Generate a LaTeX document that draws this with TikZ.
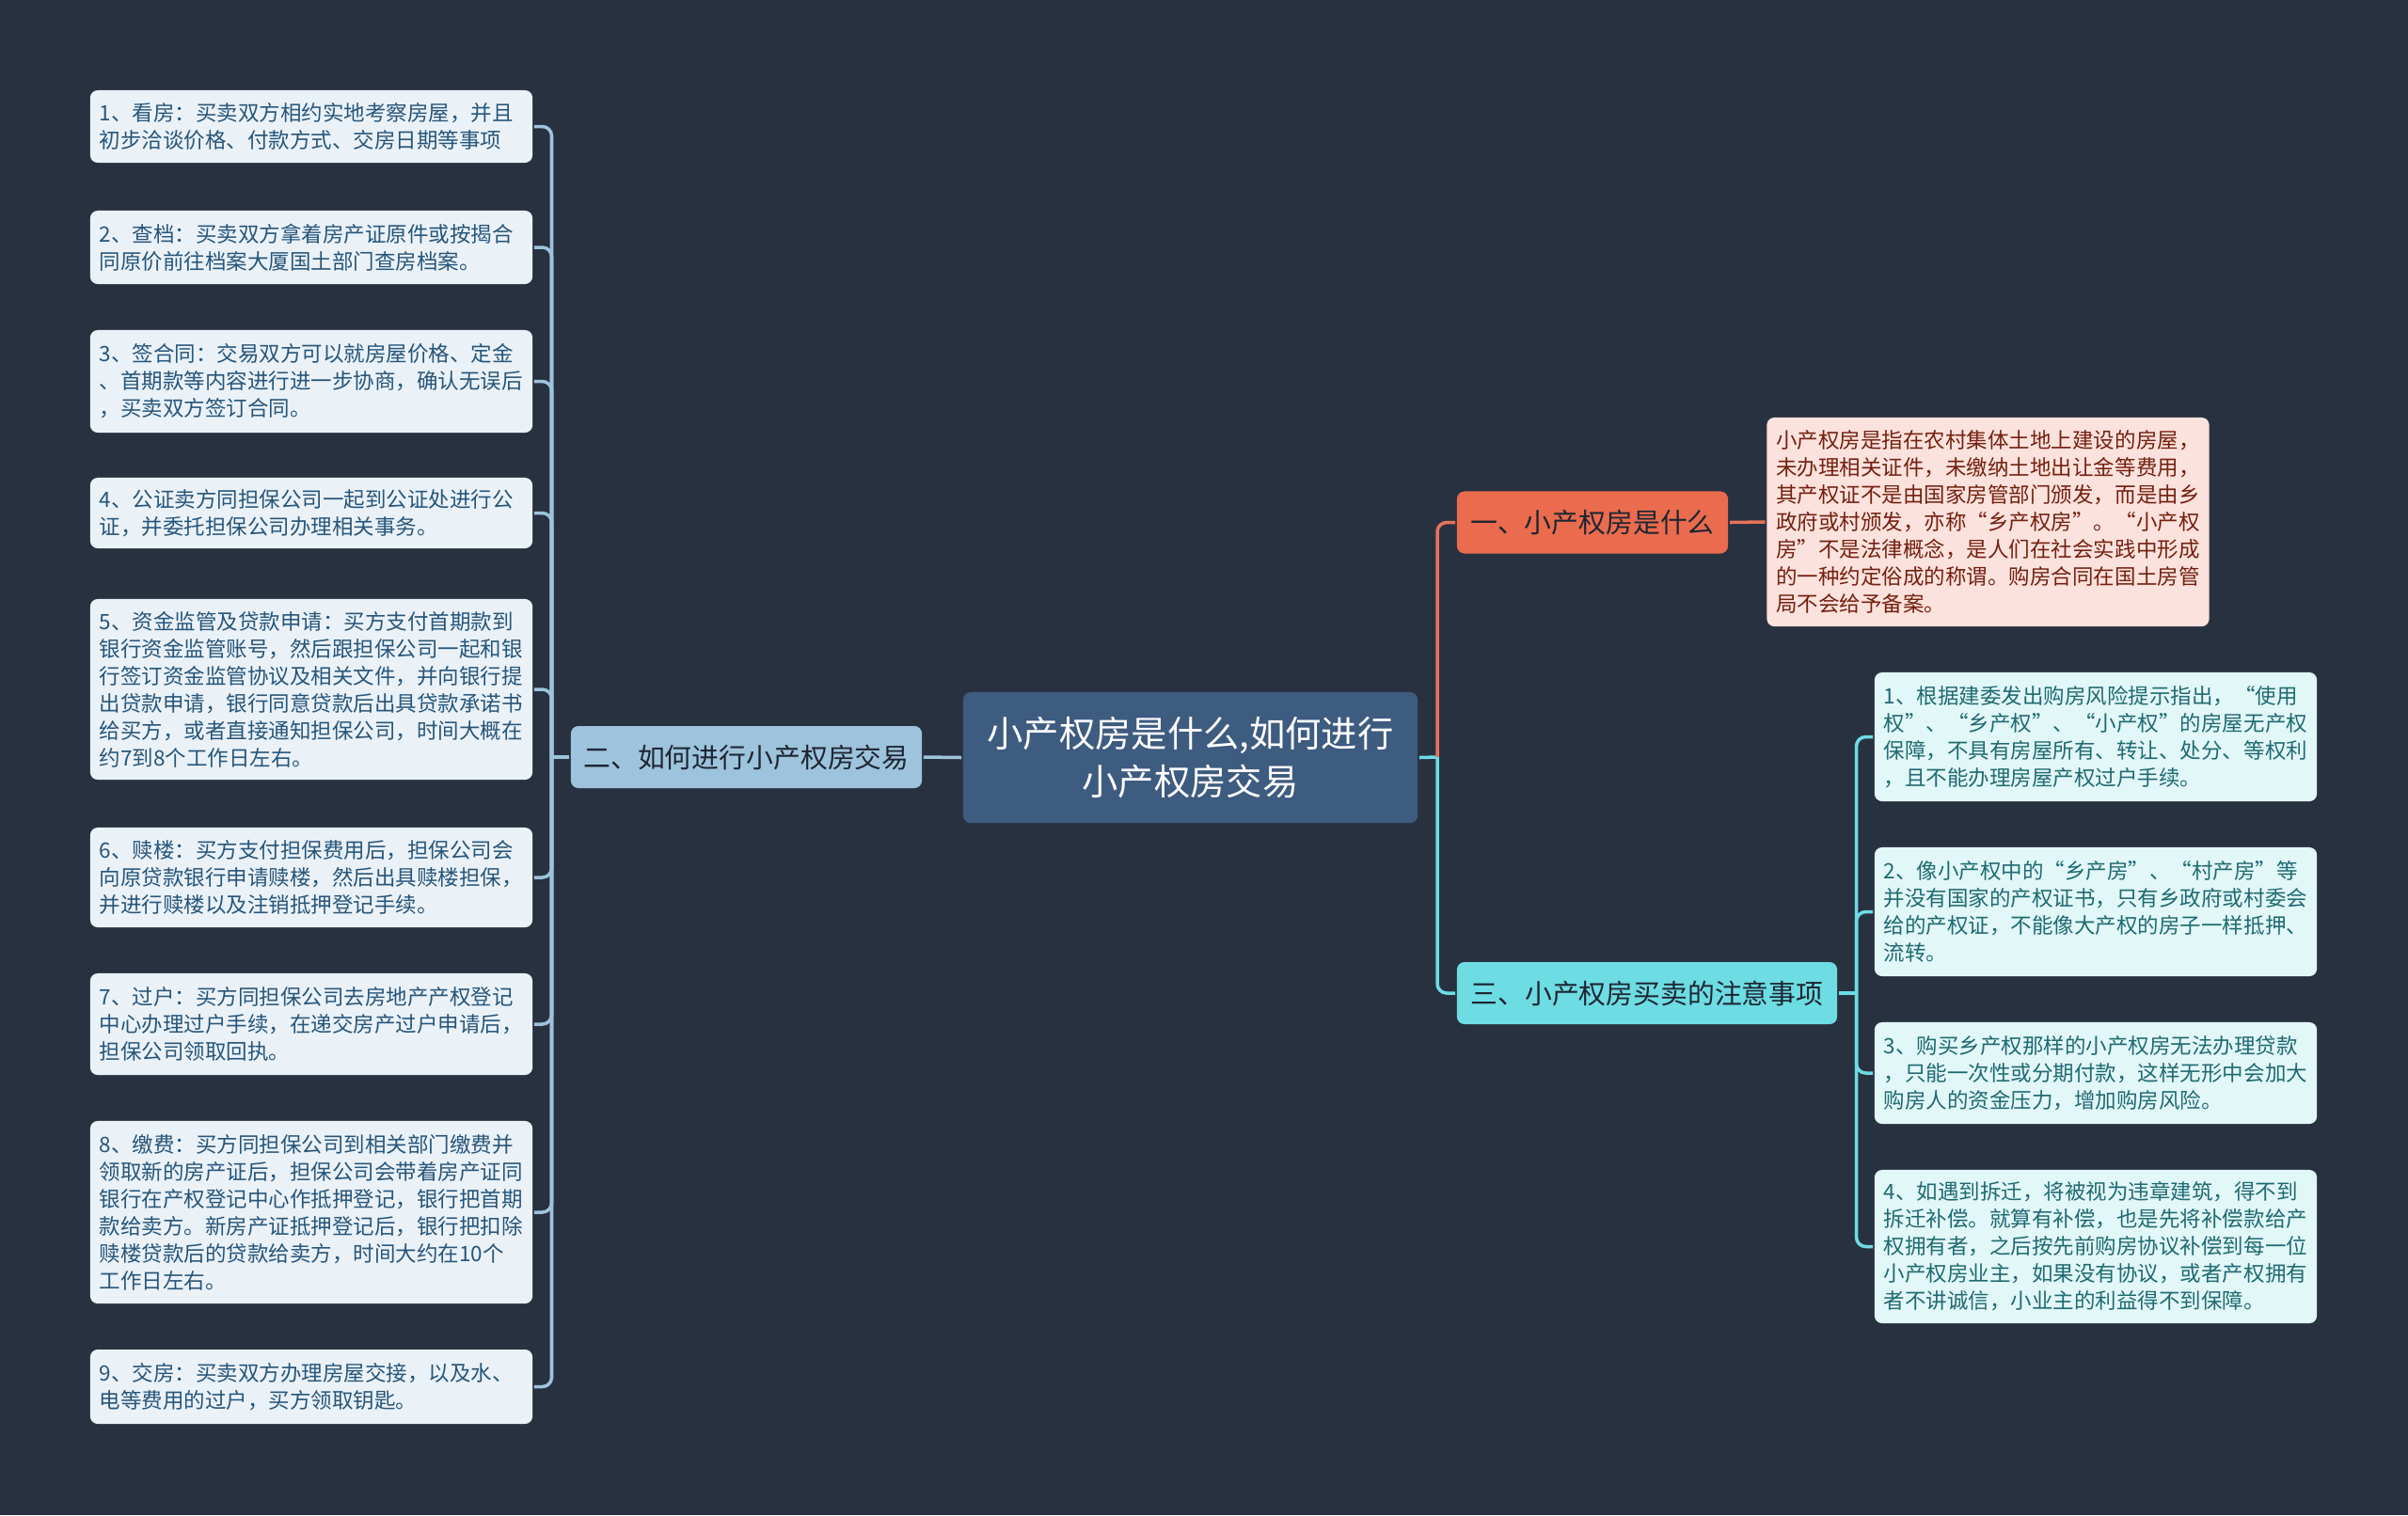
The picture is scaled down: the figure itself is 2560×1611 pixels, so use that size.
\documentclass[tikz,border=0pt]{standalone}
\usepackage{fontspec}
\setmainfont{Noto Sans CJK SC}
\usepackage{xcolor}
\definecolor{bgdark}{HTML}{283140}
\definecolor{rootblue}{HTML}{3E5B80}
\definecolor{stepblue}{HTML}{9EC3DC}
\definecolor{stepfill}{HTML}{EAF2F8}
\definecolor{steptext}{HTML}{27557A}
\definecolor{defred}{HTML}{EA6B4D}
\definecolor{defline}{HTML}{E5735A}
\definecolor{deffill}{HTML}{FCE2DD}
\definecolor{deftext}{HTML}{74200F}
\definecolor{notecyan}{HTML}{6DDCE3}
\definecolor{notefill}{HTML}{E2F7F8}
\definecolor{notetext}{HTML}{1F6A72}
\definecolor{branchtext}{HTML}{1D2632}

\begin{document}
\begin{tikzpicture}[x=0.01cm, y=-0.01cm, line width=1pt,
  box/.style={rounded corners=0.08cm, inner xsep=0.12cm, inner ysep=0cm},
  leafbox/.style={box, align=left, text width=4.5cm, minimum width=4.7cm,
    inner xsep=0.1cm, font=\fontsize{6.4pt}{8.25pt}\selectfont},
  stepleaf/.style={leafbox, fill=stepfill, text=steptext},
  defleaf/.style={leafbox, fill=deffill, text=deftext},
  noteleaf/.style={leafbox, fill=notefill, text=notetext},
  branchbox/.style={box, align=center, minimum height=0.66cm, text=branchtext,
    font=\fontsize{8.2pt}{10pt}\selectfont},
  link/.style={line width=1pt, rounded corners=0.1cm}
]
  \fill[bgdark] (0,0) rectangle (2560,1611);

  \node[
    box,
    fill=rootblue,
    text=white,
    align=center,
    minimum width=4.83cm,
    minimum height=1.39cm,
    font=\fontsize{10.9pt}{14.5pt}\selectfont
  ] (root) at (1265.5,805.5) {小产权房是什么,如何进行\\小产权房交易};

  \node[branchbox, fill=defred, minimum width=2.88cm] (what) at (1693,555.5) {一、小产权房是什么};
  \node[branchbox, fill=stepblue, minimum width=3.73cm] (how) at (793.5,805) {二、如何进行小产权房交易};
  \node[branchbox, fill=notecyan, minimum width=4.04cm] (care) at (1751,1056) {三、小产权房买卖的注意事项};

  \node[defleaf, minimum height=2.22cm] (meaning) at (2113.5,555) {%
    小产权房是指在农村集体土地上建设的房屋，\\
    未办理相关证件，未缴纳土地出让金等费用，\\
    其产权证不是由国家房管部门颁发，而是由乡\\
    政府或村颁发，亦称“乡产权房”。“小产权\\
    房”不是法律概念，是人们在社会实践中形成\\
    的一种约定俗成的称谓。购房合同在国土房管\\
    局不会给予备案。};

  \node[stepleaf, minimum height=0.77cm] (step1) at (331,134.5) {%
    1、看房：买卖双方相约实地考察房屋，并且\\
    初步洽谈价格、付款方式、交房日期等事项};
  \node[stepleaf, minimum height=0.78cm] (step2) at (331,263) {%
    2、查档：买卖双方拿着房产证原件或按揭合\\
    同原价前往档案大厦国土部门查房档案。};
  \node[stepleaf, minimum height=1.09cm] (step3) at (331,405.5) {%
    3、签合同：交易双方可以就房屋价格、定金\\
    、首期款等内容进行进一步协商，确认无误后\\
    ，买卖双方签订合同。};
  \node[stepleaf, minimum height=0.75cm] (step4) at (331,545.5) {%
    4、公证卖方同担保公司一起到公证处进行公\\
    证，并委托担保公司办理相关事务。};
  \node[stepleaf, minimum height=1.92cm] (step5) at (331,733) {%
    5、资金监管及贷款申请：买方支付首期款到\\
    银行资金监管账号，然后跟担保公司一起和银\\
    行签订资金监管协议及相关文件，并向银行提\\
    出贷款申请，银行同意贷款后出具贷款承诺书\\
    给买方，或者直接通知担保公司，时间大概在\\
    约7到8个工作日左右。};
  \node[stepleaf, minimum height=1.06cm] (step6) at (331,933) {%
    6、赎楼：买方支付担保费用后，担保公司会\\
    向原贷款银行申请赎楼，然后出具赎楼担保，\\
    并进行赎楼以及注销抵押登记手续。};
  \node[stepleaf, minimum height=1.08cm] (step7) at (331,1089) {%
    7、过户：买方同担保公司去房地产产权登记\\
    中心办理过户手续，在递交房产过户申请后，\\
    担保公司领取回执。};
  \node[stepleaf, minimum height=1.94cm] (step8) at (331,1289) {%
    8、缴费：买方同担保公司到相关部门缴费并\\
    领取新的房产证后，担保公司会带着房产证同\\
    银行在产权登记中心作抵押登记，银行把首期\\
    款给卖方。新房产证抵押登记后，银行把扣除\\
    赎楼贷款后的贷款给卖方，时间大约在10个\\
    工作日左右。};
  \node[stepleaf, minimum height=0.79cm] (step9) at (331,1474.5) {%
    9、交房：买卖双方办理房屋交接，以及水、\\
    电等费用的过户，买方领取钥匙。};

  \node[noteleaf, minimum height=1.37cm] (note1) at (2228,783.5) {%
    1、根据建委发出购房风险提示指出，“使用\\
    权”、“乡产权”、“小产权”的房屋无产权\\
    保障，不具有房屋所有、转让、处分、等权利\\
    ，且不能办理房屋产权过户手续。};
  \node[noteleaf, minimum height=1.37cm] (note2) at (2228,969.5) {%
    2、像小产权中的“乡产房”、“村产房”等\\
    并没有国家的产权证书，只有乡政府或村委会\\
    给的产权证，不能像大产权的房子一样抵押、\\
    流转。};
  \node[noteleaf, minimum height=1.08cm] (note3) at (2228,1141) {%
    3、购买乡产权那样的小产权房无法办理贷款\\
    ，只能一次性或分期付款，这样无形中会加大\\
    购房人的资金压力，增加购房风险。};
  \node[noteleaf, minimum height=1.63cm] (note4) at (2228,1325.5) {%
    4、如遇到拆迁，将被视为违章建筑，得不到\\
    拆迁补偿。就算有补偿，也是先将补偿款给产\\
    权拥有者，之后按先前购房协议补偿到每一位\\
    小产权房业主，如果没有协议，或者产权拥有\\
    者不讲诚信，小业主的利益得不到保障。};

  \coordinate (howjoin) at (586.5,805);
  \coordinate (rootjoin) at (1528,805);
  \coordinate (carejoin) at (1973.5,1056);

  \draw[link, stepblue] (root.west) -- (how.east);
  \draw[link, stepblue] (how.west) -- (howjoin);
  \foreach \s in {1,...,9}
    \draw[link, stepblue] (howjoin) |- (step\s.east);

  \draw[link, notecyan] (root.east) -- (rootjoin);
  \draw[link, defline] (rootjoin) |- (what.west);
  \draw[link, notecyan] (rootjoin) |- (care.west);
  \draw[link, defline] (what.east) -- (meaning.west);

  \draw[link, notecyan] (care.east) -- (carejoin);
  \foreach \n in {1,...,4}
    \draw[link, notecyan] (carejoin) |- (note\n.west);
\end{tikzpicture}
\end{document}
